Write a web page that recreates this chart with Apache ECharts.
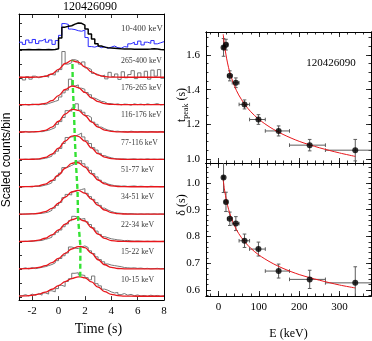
<!DOCTYPE html>
<html>
<head>
<meta charset="utf-8">
<script src="https://cdn.jsdelivr.net/npm/echarts@6/dist/echarts.min.js"></script>
<style>
html,body{margin:0;padding:0;background:#fff}
#c{width:372px;height:341px}
</style>
</head>
<body>
<div id="c"></div>
<script>
// Energy bands, lowest band first (bottom row of the light-curve stack)
const bands = ['10-15 keV','15-22 keV','22-34 keV','34-51 keV','51-77 keV','77-116 keV','116-176 keV','176-265 keV','265-400 keV'];
const totalBand = '10-400 keV';
const burstName = '120426090';

// Band energies (keV): representative value and bin edges
const eMid  = [12.5, 18.5, 28, 43, 64.5, 99, 149, 226, 339];
const eLow  = [10, 15, 22, 34, 51, 77, 116, 176, 265];
const eHigh = [15, 22, 34, 51, 77, 116, 176, 265, 400];

// Pulse peak time and width per band (s)
const tPeak    = [1.644, 1.66, 1.48, 1.44, 1.315, 1.228, 1.162, 1.08, 1.051];
const tPeakErr = [0.051, 0.031, 0.029, 0.028, 0.026, 0.028, 0.029, 0.033, 0.062];
const delta    = [1.02, 0.929, 0.866, 0.848, 0.784, 0.753, 0.671, 0.640, 0.627];
const deltaErr = [0.056, 0.036, 0.025, 0.026, 0.025, 0.026, 0.026, 0.034, 0.06];
// Fitted pulse height at the peak (scaled counts)
const peakHeight = [0.73, 0.84, 0.88, 0.89, 0.91, 0.89, 0.85, 0.70, 0.64];

// Binned light curves: 0.25 s bins starting at -3 s (scaled counts/bin)
const binStart = -3, binWidth = 0.25;
const histCounts = [
  [.04,.08,.03,.10,.05,.12,.06,.14,.10,.22,.18,.30,.42,.38,.56,.66,.86,.88,.80,.78,.70,.62,.76,.48,.40,.28,.24,.18,.14,.16,.08,.12,.06,.09,.04,.07,.03,.05,.02,.06,.03,.05,.02,.04],
  [.03,.06,.02,.07,.03,.05,.08,.10,.14,.18,.24,.32,.40,.50,.60,.82,.78,.76,.82,.86,.80,.68,.58,.46,.36,.28,.20,.16,.14,.12,.10,.07,.06,.05,.06,.04,.05,.03,.04,.02,.03,.04,.02,.03],
  [.02,.03,.02,.03,.04,.05,.06,.10,.13,.18,.27,.36,.44,.56,.66,.78,.94,.90,.84,.86,.74,.64,.52,.40,.28,.20,.16,.12,.10,.08,.07,.05,.06,.04,.03,.04,.03,.02,.03,.02,.03,.02,.02,.03],
  [.02,.03,.02,.04,.03,.04,.05,.07,.10,.16,.24,.34,.45,.62,.74,.72,.84,.88,.92,.95,.78,.66,.56,.44,.34,.24,.17,.12,.08,.06,.05,.04,.03,.04,.03,.02,.03,.02,.03,.02,.03,.02,.03,.02],
  [.02,.03,.03,.02,.04,.03,.05,.08,.11,.17,.25,.40,.52,.72,.74,.80,.86,.95,.98,.86,.74,.62,.50,.38,.26,.18,.12,.09,.06,.05,.04,.05,.03,.04,.05,.03,.04,.03,.02,.04,.03,.03,.02,.03],
  [.02,.03,.02,.03,.03,.02,.04,.06,.09,.14,.22,.32,.42,.60,.82,.84,.86,.92,.98,.84,.70,.60,.45,.36,.24,.16,.11,.08,.05,.04,.03,.04,.02,.03,.04,.02,.03,.02,.04,.02,.03,.02,.03,.02],
  [.02,.04,.01,.03,.02,.04,.03,.06,.08,.13,.18,.30,.40,.55,.80,.78,.90,1.05,.82,.74,.62,.55,.38,.30,.20,.14,.09,.07,.04,.05,.03,.04,.02,.05,.03,.02,.04,.03,.02,.04,.03,.02,.04,.02],
  [.01,.03,.00,.04,.02,.01,.04,.02,.06,.10,.14,.18,.30,.45,.55,.95,.70,.74,.62,.58,.46,.38,.26,.20,.14,.12,.05,.06,.02,.05,.01,.04,.03,.00,.05,.02,.04,.01,.05,.02,.03,.06,.01,.03],
  [.02,-.08,.04,-.05,.06,.00,.03,.08,.02,.12,.10,.22,.30,.96,.50,.55,.66,.62,.50,.58,.36,.30,.16,.12,.05,.10,-.04,.20,.04,.14,-.06,.22,.00,.12,.26,-.03,.18,.02,.24,-.05,.28,.06,.30,-.02]
];
// Full-band light curve and its comparison curve (same bins)
const totalCounts = [.02,.02,.03,.02,.02,.03,.02,.02,.03,.02,.03,.06,.45,.85,.88,.90,.96,1.0,.99,.92,.78,.60,.42,.24,.16,.12,.10,.09,.08,.07,.06,.055,.05,.05,.045,.04,.04,.04,.045,.05,.06,.05,.03,.02];
const compareCounts = [.30,.22,.38,.28,.40,.25,.35,.42,.30,.38,.22,.36,.55,.98,.95,.78,.76,.72,.70,.74,.47,.14,.12,.16,.10,.14,.08,.12,.16,.10,.08,.14,.12,.24,.30,.22,.34,.20,.30,.26,.36,.24,.28,.32];

// Fitted pulse model sampled per band
const fitTimes = [-3,-2.5,-2,-1.5,-1,-0.5,0,0.5,1,1.5,2,2.5,3,3.5,4,4.5,5,6,7,8];
const fitCounts = [
  [.026,.036,.058,.10,.17,.276,.41,.552,.668,.727,.693,.543,.351,.19,.091,.044,.027,.02,.02,.02],
  [.022,.027,.041,.073,.137,.248,.405,.587,.747,.834,.794,.596,.354,.171,.073,.035,.024,.02,.02,.02],
  [.021,.025,.038,.07,.14,.265,.447,.652,.819,.88,.772,.531,.291,.132,.056,.029,.022,.02,.02,.02],
  [.02,.022,.03,.053,.111,.23,.418,.643,.829,.889,.784,.567,.338,.171,.078,.038,.025,.02,.02,.02],
  [.02,.022,.03,.054,.117,.248,.455,.696,.874,.897,.739,.491,.266,.122,.054,.029,.022,.02,.02,.02],
  [.02,.021,.025,.041,.092,.215,.428,.686,.867,.861,.685,.438,.23,.104,.047,.027,.021,.02,.02,.02],
  [.02,.021,.023,.037,.082,.20,.413,.672,.838,.808,.623,.388,.199,.089,.042,.025,.02,.02,.02,.02],
  [.02,.02,.022,.031,.067,.166,.351,.573,.697,.643,.465,.268,.127,.056,.03,.022,.02,.02,.02,.02],
  [.02,.02,.02,.027,.054,.138,.309,.522,.639,.574,.396,.213,.095,.042,.025,.021,.02,.02,.02,.02]
];

// Power-law trends of peak time and width against energy
const fitE      = [11.7, 15, 20, 25, 30, 40, 50, 65, 80, 100, 130, 160, 200, 250, 300, 339];
const fitTpeak  = [1.72, 1.654, 1.582, 1.527, 1.484, 1.419, 1.37, 1.315, 1.273, 1.229, 1.18, 1.142, 1.102, 1.065, 1.035, 1.015];
const fitDelta  = [1.01, 0.973, 0.932, 0.901, 0.876, 0.839, 0.811, 0.78, 0.756, 0.731, 0.703, 0.681, 0.658, 0.637, 0.619, 0.608];

// Tick positions
const timeTicks = [-2, 0, 2, 4, 6, 8];
const energyTicks = [0, 100, 200, 300];
const tpeakTicks = [1.0, 1.2, 1.4, 1.6];
const deltaTicks = [0.6, 0.7, 0.8, 0.9, 1.0];

const serif = '"Liberation Serif", "DejaVu Serif", serif';

function steps(from, to, step) {
  const out = [];
  for (let v = from; v <= to + 1e-9; v += step) out.push(+v.toFixed(4));
  return out;
}

function frameAxis(grid, pos, min, max, ticks, len, labels, extra) {
  return Object.assign({
    type: 'value', gridIndex: grid, position: pos, min: min, max: max,
    axisLine: { show: true, onZero: false, lineStyle: { color: '#000', width: 1 } },
    axisTick: { show: ticks.length > 0, inside: true, length: len, customValues: ticks,
                lineStyle: { color: '#000', width: 0.8 } },
    axisLabel: labels ? { show: true, customValues: labels, color: '#000',
                          fontFamily: serif, fontSize: 11, margin: 6 } : { show: false },
    splitLine: { show: false }
  }, extra || {});
}

const eMinorTicks = steps(-20, 360, 20);
const tMinorTicks = steps(1.0, 1.70, 0.05);
const dMinorTicks = steps(0.58, 1.06, 0.02);
const E_MIN = -31, E_MAX = 378;

const xAxes = [
  // light-curve stack
  frameAxis(0, 'bottom', -3, 8, timeTicks, 4, timeTicks, {
    name: 'Time (s)', nameLocation: 'middle', nameGap: 20,
    nameTextStyle: { fontFamily: serif, fontSize: 14, color: '#000', padding: [0, 0, 0, 14] }
  }),
  frameAxis(0, 'top', -3, 8, timeTicks, 4, null),
  // peak-time panel
  frameAxis(1, 'bottom', E_MIN, E_MAX, energyTicks, 5, null),
  frameAxis(1, 'bottom', E_MIN, E_MAX, eMinorTicks, 2.5, null),
  frameAxis(1, 'top', E_MIN, E_MAX, energyTicks, 5, null),
  frameAxis(1, 'top', E_MIN, E_MAX, eMinorTicks, 2.5, null),
  // width panel
  frameAxis(2, 'bottom', E_MIN, E_MAX, energyTicks, 5, energyTicks, {
    name: 'E (keV)', nameLocation: 'middle', nameGap: 32,
    nameTextStyle: { fontFamily: serif, fontSize: 12, color: '#000' }
  }),
  frameAxis(2, 'bottom', E_MIN, E_MAX, eMinorTicks, 2.5, null),
  frameAxis(2, 'top', E_MIN, E_MAX, energyTicks, 5, null),
  frameAxis(2, 'top', E_MIN, E_MAX, eMinorTicks, 2.5, null)
];

const yAxes = [
  frameAxis(0, 'left', -0.12, 10.33, steps(0, 10, 0.5), 3, null),
  frameAxis(0, 'right', -0.12, 10.33, [], 0, null),
  frameAxis(1, 'left', 0.977, 1.733, tpeakTicks, 5, tpeakTicks, {
    axisLabel: { show: true, customValues: tpeakTicks, color: '#000', fontFamily: serif, fontSize: 11, margin: 6,
                 formatter: v => v.toFixed(1) } }),
  frameAxis(1, 'left', 0.977, 1.733, tMinorTicks, 2.5, null),
  frameAxis(1, 'right', 0.977, 1.733, tpeakTicks, 5, null),
  frameAxis(1, 'right', 0.977, 1.733, tMinorTicks, 2.5, null),
  frameAxis(2, 'left', 0.578, 1.074, deltaTicks, 5, deltaTicks, {
    axisLabel: { show: true, customValues: deltaTicks, color: '#000', fontFamily: serif, fontSize: 11, margin: 6,
                 formatter: v => v.toFixed(1) } }),
  frameAxis(2, 'left', 0.578, 1.074, dMinorTicks, 2.5, null),
  frameAxis(2, 'right', 0.578, 1.074, deltaTicks, 5, null),
  frameAxis(2, 'right', 0.578, 1.074, dMinorTicks, 2.5, null)
];

const series = [];

// Per-band histograms and fitted pulses, each offset by its row index
bands.forEach((name, i) => {
  const h = histCounts[i];
  const hist = h.map((v, k) => [binStart + k * binWidth, i + v]);
  hist.push([binStart + h.length * binWidth, i + h[h.length - 1]]);
  series.push({
    type: 'line', xAxisIndex: 0, yAxisIndex: 0, step: 'end', data: hist,
    symbol: 'none', silent: true, z: 2,
    lineStyle: { color: '#787878', width: 1 }
  });
  const fit = fitTimes.map((t, k) => [t, i + fitCounts[i][k]]);
  fit.push([tPeak[i], i + peakHeight[i]]);
  fit.sort((a, b) => a[0] - b[0]);
  series.push({
    type: 'line', xAxisIndex: 0, yAxisIndex: 0, data: fit, smooth: 0.4, smoothMonotone: 'x',
    symbol: 'none', silent: true, z: 3,
    lineStyle: { color: '#e8161b', width: 1.3 }
  });
});

// Full-band row
const topRow = bands.length;
function histLine(counts, color, width) {
  const pts = counts.map((v, k) => [binStart + k * binWidth, topRow + v]);
  pts.push([binStart + counts.length * binWidth, topRow + counts[counts.length - 1]]);
  return { type: 'line', xAxisIndex: 0, yAxisIndex: 0, step: 'end', data: pts, symbol: 'none',
           silent: true, z: 3, lineStyle: { color: color, width: width } };
}
series.push(histLine(compareCounts, '#2a2aff', 1));
series.push(histLine(totalCounts, '#000', 1.5));

// Peak-time track across bands
series.push({
  type: 'line', xAxisIndex: 0, yAxisIndex: 0, symbol: 'none', silent: true, z: 5,
  data: tPeak.map((t, i) => [t, i + peakHeight[i]]),
  lineStyle: { color: '#33e233', width: 2.4, type: [5, 3] }
});

// Band labels
const labelData = bands.map((n, i) => ({ value: [4.74, i + 0.63], name: n }));
labelData.push({ value: [4.74, topRow + 0.79], name: totalBand, label: { fontSize: 8.8 } });
series.push({
  type: 'scatter', xAxisIndex: 0, yAxisIndex: 0, symbolSize: 0, silent: true, z: 6,
  data: labelData,
  label: { show: true, position: 'right', distance: 0, formatter: p => p.name,
           fontFamily: serif, fontSize: 7.8, color: '#000' }
});

// Right-hand panels: error bars, points, trend
function errorBars(xi, yi, ys, yerr) {
  return {
    type: 'custom', xAxisIndex: xi, yAxisIndex: yi, clip: true, z: 3, silent: true,
    data: eMid.map((e, i) => [e, ys[i], eLow[i], eHigh[i], yerr[i]]),
    renderItem: function (params, api) {
      const x = api.value(0), y = api.value(1), lo = api.value(2), hi = api.value(3), er = api.value(4);
      const L = api.coord([lo, y]), R = api.coord([hi, y]);
      const B = api.coord([x, y - er]), T = api.coord([x, y + er]);
      const st = { stroke: '#5c5c5c', lineWidth: 1 };
      const cap = 1.8;
      const seg = (x1, y1, x2, y2) => ({ type: 'line', shape: { x1, y1, x2, y2 }, style: st });
      return { type: 'group', children: [
        seg(L[0], L[1], R[0], R[1]),
        seg(B[0], B[1], T[0], T[1]),
        seg(L[0], L[1] - cap, L[0], L[1] + cap),
        seg(R[0], R[1] - cap, R[0], R[1] + cap),
        seg(B[0] - cap, B[1], B[0] + cap, B[1]),
        seg(T[0] - cap, T[1], T[0] + cap, T[1])
      ] };
    }
  };
}
function trend(xi, yi, vals) {
  return { type: 'line', xAxisIndex: xi, yAxisIndex: yi, data: fitE.map((e, i) => [e, vals[i]]),
           smooth: 0.3, symbol: 'none', silent: true, z: 4, lineStyle: { color: '#e8161b', width: 1 } };
}
function points(xi, yi, vals) {
  return { type: 'scatter', xAxisIndex: xi, yAxisIndex: yi, data: eMid.map((e, i) => [e, vals[i]]),
           symbol: 'circle', symbolSize: 6, silent: true, z: 5, itemStyle: { color: '#000' } };
}
series.push(errorBars(2, 2, tPeak, tPeakErr), trend(2, 2, fitTpeak), points(2, 2, tPeak));
series.push(errorBars(6, 6, delta, deltaErr), trend(6, 6, fitDelta), points(6, 6, delta));

const chart = echarts.init(document.getElementById('c'), null, { width: 372, height: 341 });
chart.setOption({
  animation: false,
  backgroundColor: '#fff',
  grid: [
    { left: 19, top: 14, width: 145, height: 299 },
    { left: 206, top: 32, width: 165, height: 131 },
    { left: 206, top: 163, width: 165, height: 133 }
  ],
  xAxis: xAxes,
  yAxis: yAxes,
  series: series,
  graphic: [
    { type: 'text', x: 90, y: 7, silent: true,
      style: { text: burstName, font: '12px ' + serif, fill: '#000', textAlign: 'center', textVerticalAlign: 'middle' } },
    { type: 'text', x: 331, y: 63, silent: true,
      style: { text: burstName, font: '11px ' + serif, fill: '#000', textAlign: 'center', textVerticalAlign: 'middle' } },
    { type: 'text', x: 7, y: 160, rotation: Math.PI / 2, silent: true,
      style: { text: 'Scaled counts/bin', font: '12px "Liberation Sans", Arial, sans-serif', fill: '#000',
               textAlign: 'center', textVerticalAlign: 'middle' } },
    { type: 'text', x: 182, y: 105, rotation: Math.PI / 2, silent: true,
      style: { text: '{m|t}{s|peak}{m| (s)}', textAlign: 'center', textVerticalAlign: 'middle', fill: '#000',
               rich: { m: { fontFamily: serif, fontSize: 12, lineHeight: 16, verticalAlign: 'middle', fill: '#000' },
                       s: { fontFamily: serif, fontSize: 8, lineHeight: 8, verticalAlign: 'bottom', fill: '#000' } } } },
    { type: 'text', x: 182, y: 205, rotation: Math.PI / 2, silent: true,
      style: { text: '\u03b4 (s)', font: '12px ' + serif, fill: '#000', textAlign: 'center', textVerticalAlign: 'middle' } }
  ]
});
</script>
</body>
</html>
